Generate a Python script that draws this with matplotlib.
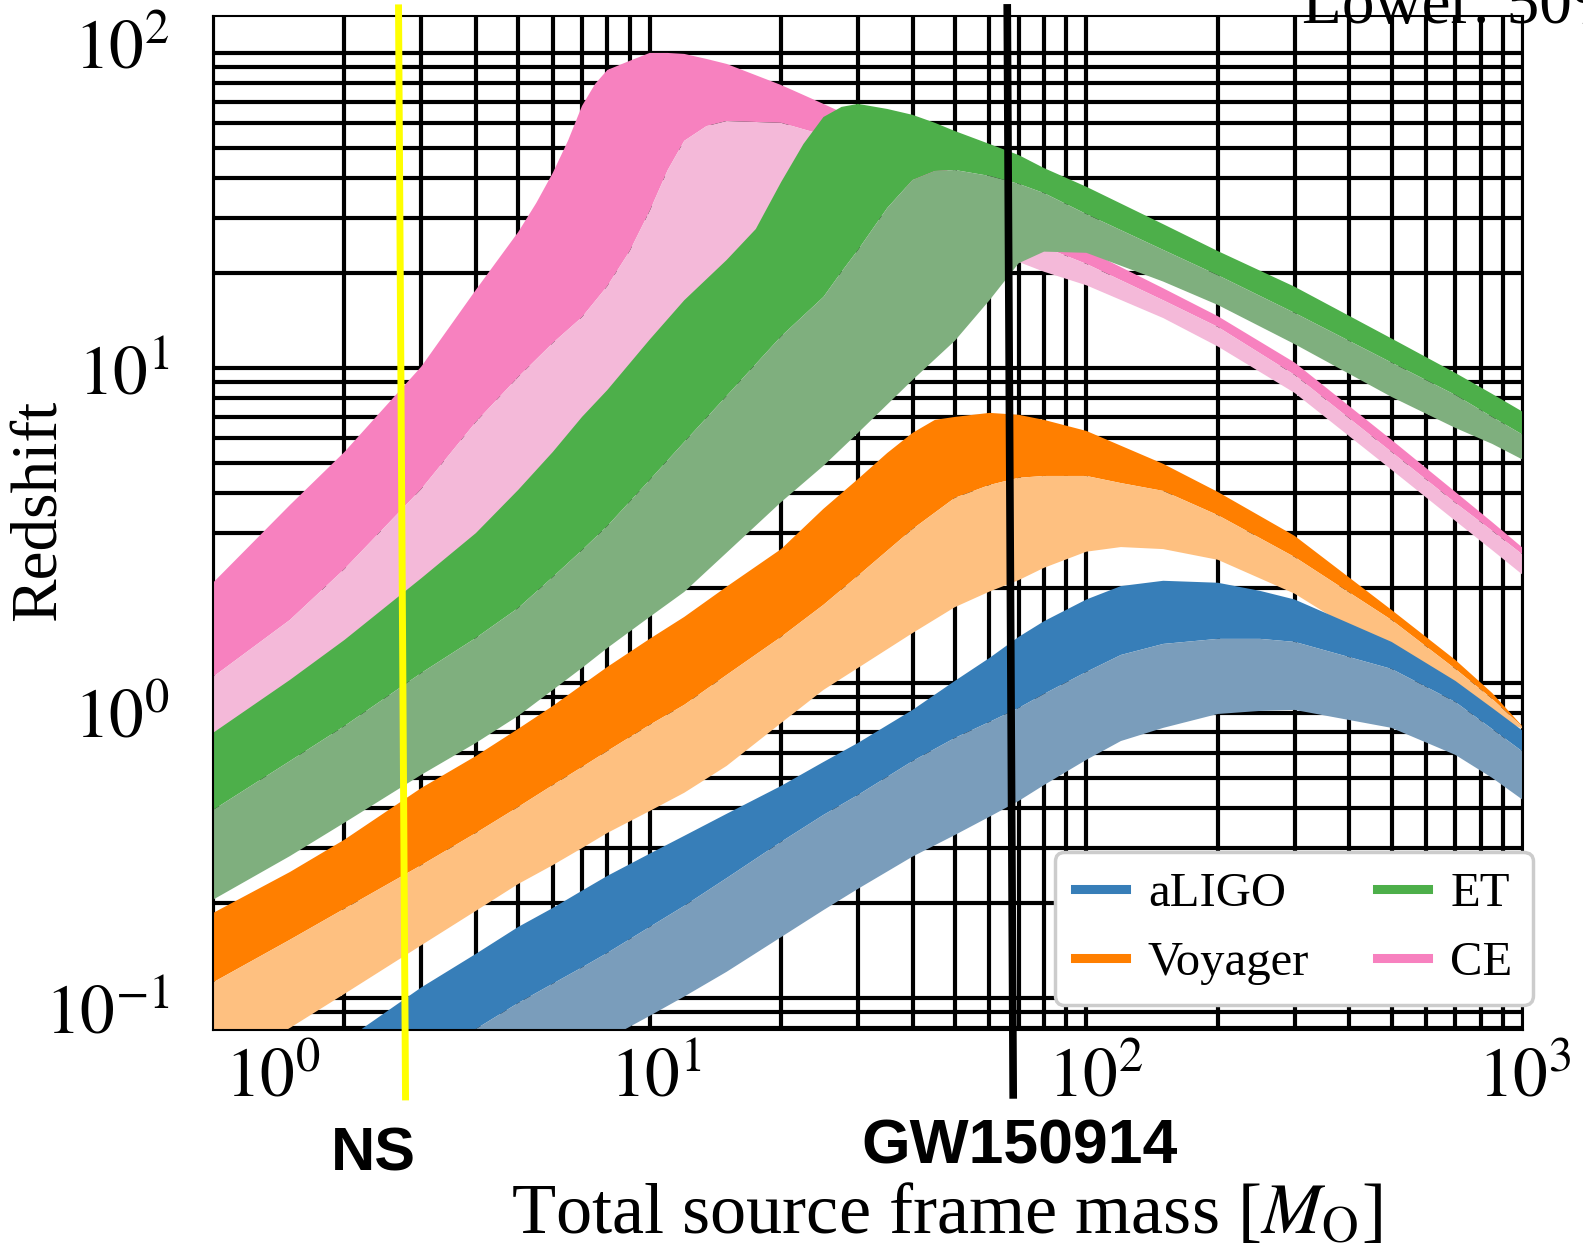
import matplotlib
matplotlib.use("Agg")
import matplotlib.pyplot as plt
from matplotlib.lines import Line2D
from matplotlib.ticker import LogLocator
import numpy as np

plt.rcParams['font.family'] = ['Liberation Serif', 'DejaVu Serif']
plt.rcParams['mathtext.fontset'] = 'stix'

# total source frame mass [M_sun] and redshift reach; each detector has an
# upper, a middle and a lower curve (dark band = upper..middle, light = middle..lower)
aligo_m = [1, 1.5, 2, 3, 4, 5, 6, 7, 8, 10, 12, 15, 20, 25, 30, 40, 50, 60, 70, 80,
           100, 120, 150, 200, 250, 300, 500, 700, 850, 1000]
aligo_top = [0.0373, 0.0549, 0.0730, 0.108, 0.138, 0.168, 0.193, 0.219, 0.244, 0.287,
             0.327, 0.384, 0.471, 0.561, 0.645, 0.821, 1.015, 1.20, 1.40, 1.57,
             1.84, 2.03, 2.11, 2.08, 1.96, 1.84, 1.35, 1.015, 0.833, 0.704]
aligo_mid = [0.0259, 0.0360, 0.0454, 0.0631, 0.0797, 0.0964, 0.111, 0.125, 0.139, 0.168,
             0.196, 0.240, 0.313, 0.381, 0.441, 0.565, 0.669, 0.752, 0.833, 0.923,
             1.084, 1.227, 1.33, 1.38, 1.38, 1.35, 1.108, 0.870, 0.714, 0.604]
aligo_low = [0.0153, 0.0208, 0.0259, 0.0352, 0.0438, 0.0522, 0.0595, 0.0669, 0.0741, 0.0877,
             0.101, 0.121, 0.156, 0.190, 0.222, 0.281, 0.329, 0.376, 0.422, 0.474,
             0.570, 0.654, 0.720, 0.797, 0.815, 0.821, 0.720, 0.591, 0.4995, 0.425]

voyager_top_m = [1, 1.5, 2, 3, 4, 5, 6, 7, 8, 10, 12, 15, 20, 25, 30, 35, 40, 45, 50, 55,
                 60, 70, 80, 100, 150, 200, 300, 500, 700, 850, 1000]
voyager_top = [0.186, 0.251, 0.318, 0.464, 0.586, 0.715, 0.845, 0.985, 1.124, 1.38,
               1.62, 2.02, 2.66, 3.57, 4.44, 5.37, 6.22, 6.84, 6.99, 7.10,
               7.20, 7.10, 6.84, 6.31, 4.96, 4.04, 2.93, 1.705, 1.183, 0.929, 0.725]
voyager_m = [1, 1.5, 2, 3, 4, 5, 6, 7, 8, 10, 12, 15, 20, 25, 30, 40, 50, 60, 70, 80,
             100, 120, 150, 200, 300, 500, 700, 850, 1000]
voyager_mid = [0.112, 0.153, 0.192, 0.264, 0.334, 0.404, 0.474, 0.541, 0.608, 0.736,
               0.852, 1.06, 1.40, 1.77, 2.19, 3.08, 3.87, 4.25, 4.48, 4.54,
               4.54, 4.31, 4.07, 3.41, 2.51, 1.585, 1.108, 0.890, 0.722]
voyager_low = [0.0570, 0.0803, 0.103, 0.147, 0.189, 0.230, 0.264, 0.299, 0.334, 0.392,
               0.448, 0.545, 0.746, 0.950, 1.116, 1.44, 1.74, 1.95, 2.12, 2.32,
               2.61, 2.70, 2.66, 2.46, 1.92, 1.236, 0.883, 0.780, 0.715]

et_top_m = [1, 1.5, 2, 3, 4, 5, 6, 7, 8, 10, 12, 15, 17.5, 20, 22.5, 25, 27.5, 30, 35, 40,
            45, 50, 60, 70, 80, 100, 150, 200, 300, 500, 700, 850, 1000]
et_top = [0.694, 1.022, 1.369, 2.15, 2.99, 4.10, 5.41, 6.99, 8.51, 12.3,
          16.4, 22.0, 27.6, 38.9, 51.4, 62.6, 67.4, 68.9, 66.4, 63.6,
          60.0, 56.5, 51.4, 47.4, 43.1, 37.6, 28.6, 23.5, 18.1, 12.4, 9.64, 8.27, 7.25]
et_mid_m = [1, 1.5, 2, 3, 4, 5, 6, 7, 8, 10, 12, 15, 20, 25, 27.5, 30, 35, 40, 45, 50,
            60, 70, 80, 100, 150, 200, 300, 500, 700, 850, 1000]
et_mid = [0.395, 0.565, 0.730, 1.076, 1.390, 1.730, 2.17, 2.64, 3.15, 4.41,
          5.82, 8.15, 12.6, 16.8, 20.2, 23.7, 32.2, 39.5, 42.2, 42.5,
          40.7, 38.4, 35.9, 30.8, 23.7, 19.7, 14.95, 10.4, 8.21, 6.99, 6.13]
et_low_m = [1, 1.5, 2, 3, 4, 5, 6, 7, 8, 10, 12, 15, 20, 25, 30, 40, 50, 60, 70, 80,
            100, 150, 200, 300, 500, 700, 850, 1000]
et_low = [0.205, 0.282, 0.360, 0.511, 0.645, 0.786, 0.950, 1.116, 1.291, 1.620,
          1.945, 2.59, 3.75, 4.89, 6.22, 9.16, 12.2, 16.4, 21.5, 23.4,
          23.2, 18.8, 15.85, 11.9, 8.09, 6.45, 5.74, 5.11]

ce_top_m = [1, 1.5, 2, 3, 4, 5, 5.5, 6, 6.5, 7, 7.5, 8, 9, 10, 11, 12, 13.5, 15, 20, 25,
            30, 40, 50, 60, 70, 80, 100, 150, 200, 300, 500, 700, 850, 1000]
ce_top = [2.08, 3.67, 5.41, 10.1, 17.7, 27.0, 33.4, 41.6, 52.6, 67.9,
          79.7, 88.3, 94.4, 100, 100, 99.3, 95.7, 92.3, 79.1, 68.9,
          61.3, 49.2, 41.0, 35.2, 31.1, 27.8, 23.7, 17.9, 14.6, 10.4, 5.91, 4.04, 3.24, 2.68]
ce_mid_m = [1, 1.5, 2, 3, 4, 5, 6, 7, 8, 9, 10, 11, 12, 13.5, 15, 20, 25, 30, 40, 50,
            60, 70, 80, 100, 150, 200, 300, 500, 700, 850, 1000]
ce_mid = [1.045, 1.585, 2.30, 4.13, 6.74, 9.36, 12.0, 14.5, 18.2, 23.5,
          31.5, 42.5, 52.6, 58.6, 60.8, 60.0, 54.9, 49.2, 40.1, 34.1,
          29.9, 26.6, 24.2, 21.4, 16.4, 13.5, 9.5, 5.41, 3.73, 3.04, 2.55]
ce_low_m = et_low_m
ce_low = [0.591, 0.870, 1.166, 1.835, 2.55, 3.49, 4.61, 5.95, 7.25, 10.4,
          14.0, 18.8, 33.2, 45.7, 44.1, 36.7, 30.6, 25.5, 21.7, 20.2,
          18.3, 14.4, 11.7, 8.33, 4.75, 3.27, 2.64, 2.20]

legend_names = ['aLIGO', 'Voyager', 'ET', 'CE']
dark = {'aLIGO': '#377eb8', 'Voyager': '#ff7f00', 'ET': '#4daf4a', 'CE': '#f781bf'}
light = {'aLIGO': '#7a9dbb', 'Voyager': '#fec080', 'ET': '#7faf7e', 'CE': '#f4b9d9'}

xtick_vals = [1, 10, 100, 1000]
xtick_text = ['$10^{0}$', '$10^{1}$', '$10^{2}$', '$10^{3}$']
ytick_vals = [100, 10, 1, 0.1]
ytick_text = ['$10^{2}$', '$10^{1}$', '$10^{0}$', '$10^{-1}$']

ns_mass = (2.66, 2.76)
gw_mass = (65.9, 68.0)


def band(ax, m_up, z_up, m_lo, z_lo, color):
    ax.fill(list(m_up) + list(m_lo)[::-1], list(z_up) + list(z_lo)[::-1],
            color=color, lw=0)


fig = plt.figure(figsize=(15.83, 12.5), dpi=100)
ax = fig.add_axes([213 / 1583, 220 / 1250, 1310 / 1583, 1014 / 1250])
ax.set_xscale('log')
ax.set_yscale('log')
ax.set_xlim(1, 1000)
ax.set_ylim(0.0791, 131)
ax.set_axisbelow(True)
ax.xaxis.set_minor_locator(LogLocator(base=10, subs=np.arange(2, 10), numticks=50))
ax.yaxis.set_minor_locator(LogLocator(base=10, subs=np.arange(2, 10), numticks=50))
ax.grid(True, which='both', color='black', linewidth=3.0)
ax.tick_params(which='both', length=0, labelbottom=False, labelleft=False)
for s in ax.spines.values():
    s.set_linewidth(1.5)

# draw order: Voyager, aLIGO, CE, ET
band(ax, voyager_top_m, voyager_top, voyager_m, voyager_mid, dark['Voyager'])
band(ax, voyager_m, voyager_mid, voyager_m, voyager_low, light['Voyager'])
band(ax, aligo_m, aligo_top, aligo_m, aligo_mid, dark['aLIGO'])
band(ax, aligo_m, aligo_mid, aligo_m, aligo_low, light['aLIGO'])
band(ax, ce_top_m, ce_top, ce_mid_m, ce_mid, dark['CE'])
band(ax, ce_mid_m, ce_mid, ce_low_m, ce_low, light['CE'])
band(ax, et_top_m, et_top, et_mid_m, et_mid, dark['ET'])
band(ax, et_mid_m, et_mid, et_low_m, et_low, light['ET'])

# NS and GW150914 markers
tr = ax.get_xaxis_transform()
ax.plot(ns_mass, [1.008, -0.066], color='#ffff00', lw=5, transform=tr, clip_on=False, zorder=5)
ax.plot(gw_mass, [1.008, -0.064], color='black', lw=5.5, transform=tr, clip_on=False, zorder=5)

# tick labels
x_off = [(60, -50), (6, -50), (9, -50), (2, -50)]
for v, t, (dx, dy) in zip(xtick_vals, xtick_text, x_off):
    ax.annotate(t, xy=(v, 0), xycoords=tr, xytext=(dx, dy), textcoords='offset pixels',
                ha='center', va='center', fontsize=50, annotation_clip=False)
y_off = [(-43, 1), (-43, -10), (-43, -38), (-43, -19)]
ytr = ax.get_yaxis_transform()
for v, t, (dx, dy) in zip(ytick_vals, ytick_text, y_off):
    ax.annotate(t, xy=(0, v), xycoords=ytr, xytext=(dx, dy), textcoords='offset pixels',
                ha='right', va='center', fontsize=50, annotation_clip=False)

handles = [Line2D([], [], color=dark[n], lw=6.5) for n in legend_names]
leg = ax.legend(handles, legend_names, ncol=2, loc='lower right',
                bbox_to_anchor=(1.0076, 0.0247), borderaxespad=0, fontsize=35,
                handlelength=1.05, handletextpad=0.45, columnspacing=1.4,
                labelspacing=0.5, borderpad=0.42, fancybox=True, framealpha=1)
leg.get_frame().set_edgecolor('#cccccc')
leg.get_frame().set_linewidth(2.5)
leg.set_zorder(10)

fig.text(946 / 1583, 1 - 1215 / 1250, r'Total source frame mass [$M_{\mathrm{O}}$]',
         ha='center', va='center', fontsize=52)
fig.text(40 / 1583, 1 - 510 / 1250, 'Redshift', rotation=90,
         ha='center', va='center', fontsize=47)
fig.text(373 / 1583, 1 - 1155 / 1250, 'NS', family=['Liberation Sans', 'DejaVu Sans'],
         weight='bold', ha='center', va='center', fontsize=44)
fig.text(1020 / 1583, 1 - 1147 / 1250, 'GW150914', family=['Liberation Sans', 'DejaVu Sans'],
         weight='bold', ha='center', va='center', fontsize=45)
fig.text(1302 / 1583, 1 - 23 / 1250, 'Lower: 50%', ha='left', va='baseline', fontsize=47)

fig.savefig('out.png', dpi=100)
